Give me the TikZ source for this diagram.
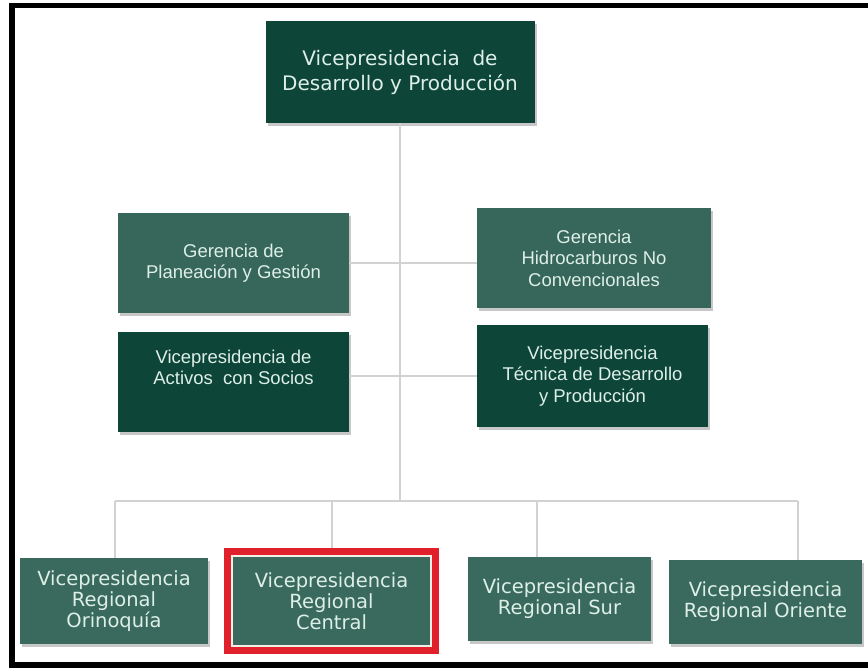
\documentclass[tikz,border=0pt]{standalone}
\usepackage{fontspec}
\setmainfont{DejaVu Sans}
\newfontfamily\midfont{Liberation Sans}
\usetikzlibrary{shadows,fit}

\definecolor{darkgreen}{HTML}{0D4539}
\definecolor{midgreen}{HTML}{37665A}
\definecolor{lowgreen}{HTML}{3A6A5E}
\definecolor{boxtext}{HTML}{DDEFE7}
\definecolor{linkgray}{HTML}{D2D2D2}
\definecolor{hired}{HTML}{E0202A}
\definecolor{cream}{HTML}{F4EFE6}

\tikzset{
  orgbox/.style={rectangle, inner sep=0pt, align=center, text=boxtext,
    drop shadow={shadow xshift=2pt, shadow yshift=-3pt, fill=black, opacity=0.22}},
  topbox/.style={orgbox, fill=darkgreen, font=\fontsize{20}{25}\selectfont},
  gerbox/.style={orgbox, fill=midgreen, font=\midfont\fontsize{18.5}{21.5}\selectfont},
  vpbox/.style={orgbox, fill=darkgreen, font=\midfont\fontsize{18.5}{21.5}\selectfont},
  regbox/.style={orgbox, fill=lowgreen, font=\fontsize{19.5}{21}\selectfont},
  conn/.style={draw=linkgray, line width=1.5pt},
  hilite/.style={draw=hired, line width=7pt, inner sep=5pt},
  hiliteedge/.style={draw=cream, line width=1.5pt, inner sep=1pt},
}

\begin{document}
\begin{tikzpicture}[x=1pt, y=-1pt]
\useasboundingbox (0,0) rectangle (868,672);
\fill[white] (0,0) rectangle (868,672);

% outer frame, open towards the right edge
\draw[black, line width=5.5pt] (880,5.5) -- (12,5.5) -- (12,665) -- (880,665);

% bus coordinates
\coordinate (bus) at (400,501);
\coordinate (dOrin) at (115,501);
\coordinate (dCent) at (332,501);
\coordinate (dSur) at (537,501);
\coordinate (dOrie) at (798,501);

% top level
\node[topbox, minimum width=269pt, minimum height=102pt] (vp) at (400,72)
  {Vicepresidencia\ \ de\\Desarrollo y Producción};

% second level
\node[gerbox, minimum width=231pt, minimum height=100pt] (ger) at (233.5,263)
  {Gerencia de\\Planeación y Gestión};
\node[gerbox, minimum width=234pt, minimum height=100pt] (hid) at (594,258)
  {Gerencia\\Hidrocarburos No\\Convencionales};
\node[vpbox, minimum width=231pt, minimum height=100pt] (act) at (233.5,382)
  {Vicepresidencia de\\Activos\ \ con Socios\\[8pt]};
\node[vpbox, minimum width=231pt, minimum height=102pt] (tec) at (592.5,376)
  {Vicepresidencia\\Técnica de Desarrollo\\y Producción};

% regional level
\node[regbox, minimum width=188pt, minimum height=86pt] (orin) at (114,601)
  {Vicepresidencia\\Regional\\Orinoquía};
\node[regbox, minimum width=197pt, minimum height=88pt] (cent) at (331.5,601)
  {Vicepresidencia\\Regional\\Central};
\node[regbox, minimum width=183pt, minimum height=84pt] (sur) at (559.5,599)
  {Vicepresidencia\\Regional Sur};
\node[regbox, minimum width=193pt, minimum height=84pt] (orie) at (765.5,602)
  {Vicepresidencia\\Regional Oriente};

% highlight around the central region
\node[hiliteedge, fit=(cent)] (edge) {};
\node[hilite, fit=(cent)] (mark) {};

% connectors
\draw[conn] (vp.south) -- (bus);
\draw[conn] (ger.east) -- (ger.east -| hid.west);
\draw[conn] (tec.west -| act.east) -- (tec.west);
\draw[conn] (dOrin) -- (dOrie);
\draw[conn] (dOrin) -- (dOrin |- orin.north);
\draw[conn] (dCent) -- (dCent |- mark.north);
\draw[conn] (dSur) -- (dSur |- sur.north);
\draw[conn] (dOrie) -- (dOrie |- orie.north);
\end{tikzpicture}
\end{document}
